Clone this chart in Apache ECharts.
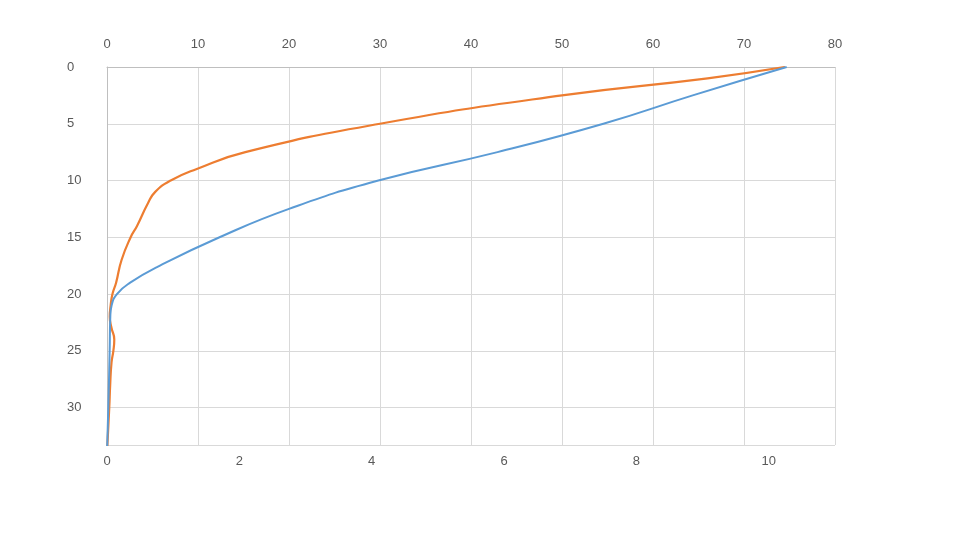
<!DOCTYPE html>
<html><head><meta charset="utf-8">
<script src="https://cdn.jsdelivr.net/npm/echarts@6/dist/echarts.min.js"></script>
<style>html,body{margin:0;background:#fff}#c{width:959px;height:535px}</style>
</head><body><div id="c"></div>
<script>
const depthF = [0, 1, 2.5, 5, 7.5, 9, 10, 11, 12, 14, 15, 17, 19, 20, 21, 22, 23, 24, 25, 26, 28, 30, 34];
const valF   = [74.5, 66, 50, 30, 15.2, 9.8, 7, 5.3, 4.5, 3.3, 2.6, 1.6, 1.0, 0.6, 0.4, 0.3, 0.5, 0.8, 0.7, 0.5, 0.35, 0.25, 0];
const depthV = [0, 2.5, 5, 7.5, 10, 12.5, 15, 17.5, 19, 20, 21, 22, 25, 30, 34];
const valV   = [10.27, 8.85, 7.5, 5.9, 4.1, 2.75, 1.7, 0.8, 0.35, 0.15, 0.07, 0.05, 0.04, 0.02, 0];
const labelF = {name: 'F', x: 25.3, y: 5.2};
const labelV = {name: 'V', x: 4.1, y: 9.8};

const ax = {color:'#595959', fontSize:13, fontFamily:'Liberation Sans'};
const mp = (l) => ({symbol:'circle',symbolSize:1,itemStyle:{opacity:0},
  label:{show:true,position:'inside',formatter:l.name,color:'#333',fontSize:20,fontFamily:'Liberation Sans'},
  data:[{coord:[l.x,l.y]}]});
const chart = echarts.init(document.getElementById('c'));
chart.setOption({
  animation:false,
  grid:{left:107,right:124,top:67,bottom:90},
  xAxis:[
    {type:'value',position:'bottom',min:0,max:11,interval:2,
     axisLine:{show:true,lineStyle:{color:'#bfbfbf'}},axisTick:{show:false},
     splitLine:{show:false},axisLabel:Object.assign({margin:10,showMaxLabel:false},ax)},
    {type:'value',position:'top',min:0,max:80,interval:10,
     axisLine:{show:false},axisTick:{show:false},
     splitLine:{show:true,lineStyle:{color:'#d9d9d9'}},axisLabel:Object.assign({margin:16},ax)}
  ],
  yAxis:{type:'value',inverse:true,min:0,max:33.3,interval:5,
     axisLine:{show:true,lineStyle:{color:'#bfbfbf'}},axisTick:{show:false},
     splitLine:{show:true,lineStyle:{color:'#d9d9d9'}},axisLabel:Object.assign({margin:40,align:'left',showMaxLabel:false},ax)},
  series:[
    {type:'line',xAxisIndex:1,smooth:0.5,symbol:'none',
     lineStyle:{color:'#ED7D31',width:2.2},
     data:valF.map((v,i)=>[v,depthF[i]]), markPoint:mp(labelF)},
    {type:'line',xAxisIndex:0,smooth:0.5,symbol:'none',
     lineStyle:{color:'#5B9BD5',width:2},
     data:valV.map((v,i)=>[v,depthV[i]]), markPoint:mp(labelV)}
  ]
});
</script></body></html>
